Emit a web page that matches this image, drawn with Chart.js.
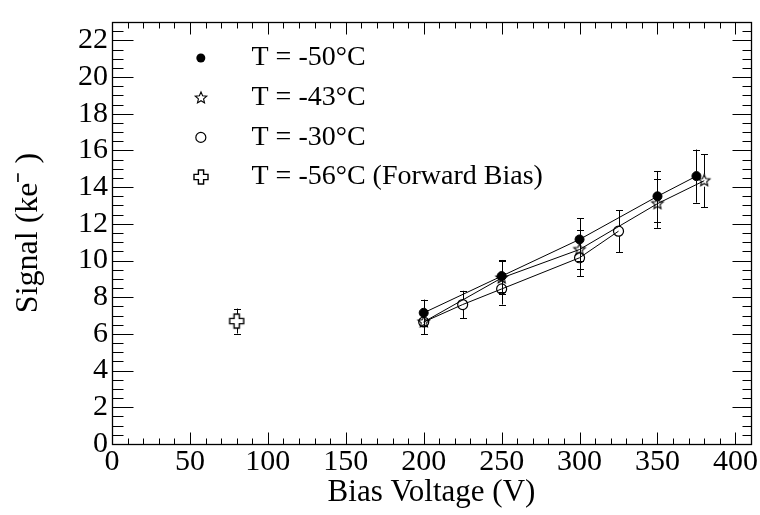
<!DOCTYPE html>
<html><head><meta charset="utf-8">
<script src="https://cdn.jsdelivr.net/npm/chart.js@4.4.1/dist/chart.umd.min.js"></script>
<style>html,body{margin:0;padding:0;background:#fff;} #wrap{width:760px;height:515px;position:relative;}</style>
</head><body><div id="wrap"><canvas id="c" width="760" height="515"></canvas></div>
<script>
// ---- data ----
const xTicks = [0, 50, 100, 150, 200, 250, 300, 350, 400];
const yTicks = [0, 2, 4, 6, 8, 10, 12, 14, 16, 18, 20, 22];
const seriesLabels = ['T = -50°C', 'T = -43°C', 'T = -30°C', 'T = -56°C (Forward Bias)'];

const volt50 = [200, 250, 300, 350, 375];
const sig50  = [7.15, 9.15, 11.15, 13.5, 14.6];
const err50  = [0.72, 0.88, 1.15, 1.38, 1.45];

const volt43 = [200, 250, 300, 350, 380];
const sig43  = [6.65, 9.05, 10.6, 13.1, 14.35];
const err43  = [0.65, 0.9, 1.06, 1.32, 1.45];

const volt30 = [200, 225, 250, 300, 325];
const sig30  = [6.65, 7.6, 8.45, 10.15, 11.6];
const err30  = [0.65, 0.75, 0.85, 1.0, 1.15];

const voltFB = [80];
const sigFB  = [6.7];
const errFB  = [0.68];

// ---- marker images ----
function makeStar(r) {
  const size = Math.ceil(r * 2 + 4);
  const c = document.createElement('canvas'); c.width = c.height = size;
  const g = c.getContext('2d'); const cx = size / 2, cy = size / 2;
  g.beginPath();
  for (let i = 0; i < 10; i++) {
    const a = -Math.PI / 2 + i * Math.PI / 5;
    const rr = (i % 2) ? r * 0.45 : r;
    g.lineTo(cx + rr * Math.cos(a), cy + rr * Math.sin(a));
  }
  g.closePath(); g.strokeStyle = '#000'; g.lineWidth = 1.1; g.stroke();
  return c;
}
function makeCross(s, a) {
  const size = Math.ceil(s * 2 + 4);
  const c = document.createElement('canvas'); c.width = c.height = size;
  const g = c.getContext('2d'); const cx = size / 2, cy = size / 2;
  const p = [[-a,-s],[a,-s],[a,-a],[s,-a],[s,a],[a,a],[a,s],[-a,s],[-a,a],[-s,a],[-s,-a],[-a,-a]];
  g.beginPath(); p.forEach(q => g.lineTo(cx + q[0], cy + q[1])); g.closePath();
  g.strokeStyle = '#000'; g.lineWidth = 1.4; g.stroke();
  return c;
}
const starImg = makeStar(6);
const crossImg = makeCross(7, 2.6);

const toPts = (xs, ys) => xs.map((x, i) => ({x: x, y: ys[i]}));

const datasets = [
  {label: seriesLabels[0], data: toPts(volt50, sig50), errors: err50, gap: 4.5,
   showLine: true, borderColor: '#000', borderWidth: 1, pointStyle: 'circle', pointRadius: 4.5,
   pointBackgroundColor: '#000', pointBorderColor: '#000', pointBorderWidth: 1},
  {label: seriesLabels[1], data: toPts(volt43, sig43), errors: err43, gap: 6,
   showLine: true, borderColor: '#000', borderWidth: 1, pointStyle: starImg, pointRadius: 6},
  {label: seriesLabels[2], data: toPts(volt30, sig30), errors: err30, gap: 5,
   showLine: true, borderColor: '#000', borderWidth: 1, pointStyle: 'circle', pointRadius: 5,
   pointBackgroundColor: 'rgba(0,0,0,0)', pointBorderColor: '#000', pointBorderWidth: 1.2},
  {label: seriesLabels[3], data: toPts(voltFB, sigFB), errors: errFB, gap: 7,
   showLine: false, borderColor: '#000', borderWidth: 1, pointStyle: crossImg, pointRadius: 7}
];

const FONT = 'Liberation Serif, Times New Roman, serif';

const rootPlugin = {
  id: 'rootStyle',
  beforeDatasetsDraw(chart) {
    const ctx = chart.ctx, xs = chart.scales.x, ys = chart.scales.y;
    ctx.save(); ctx.strokeStyle = '#000'; ctx.lineWidth = 1;
    chart.data.datasets.forEach(ds => {
      ds.data.forEach((p, i) => {
        const e = ds.errors[i];
        const px = Math.round(xs.getPixelForValue(p.x)) + 0.5;
        const py = ys.getPixelForValue(p.y);
        const top = ys.getPixelForValue(p.y + e), bot = ys.getPixelForValue(p.y - e);
        ctx.beginPath();
        ctx.moveTo(px, top); ctx.lineTo(px, py - ds.gap);
        ctx.moveTo(px, py + ds.gap); ctx.lineTo(px, bot);
        ctx.moveTo(px - 3.5, Math.round(top) + 0.5); ctx.lineTo(px + 3.5, Math.round(top) + 0.5);
        ctx.moveTo(px - 3.5, Math.round(bot) + 0.5); ctx.lineTo(px + 3.5, Math.round(bot) + 0.5);
        ctx.stroke();
      });
    });
    ctx.restore();
  },
  afterDraw(chart) {
    const ctx = chart.ctx, xs = chart.scales.x, ys = chart.scales.y, a = chart.chartArea;
    ctx.save(); ctx.strokeStyle = '#000'; ctx.lineWidth = 1.3;
    const L = Math.round(a.left) + 0.5, R = Math.round(a.right) + 0.5;
    const T = Math.round(a.top) + 0.5, B = Math.round(a.bottom) + 0.5;
    ctx.strokeRect(L, T, R - L, B - T);
    ctx.lineWidth = 1;
    ctx.beginPath();
    // x ticks (major every 50, minor every 10)
    for (let v = xTicks[0]; v <= xs.max + 1e-6; v += 10) {
      const major = xTicks.includes(v);
      const px = Math.round(xs.getPixelForValue(v)) + 0.5;
      const lb = major ? 12 : 6, lt = major ? 12 : 6;
      ctx.moveTo(px, B); ctx.lineTo(px, B - lb);
      ctx.moveTo(px, T); ctx.lineTo(px, T + lt);
    }
    // y ticks (major every 2, minor every 0.5)
    for (let v = yTicks[0]; v <= ys.max + 1e-6; v += 0.5) {
      const major = yTicks.includes(v);
      const py = Math.round(ys.getPixelForValue(v)) + 0.5;
      const ll = major ? 21 : 11, lr = major ? 19 : 9;
      ctx.moveTo(L, py); ctx.lineTo(L + ll, py);
      ctx.moveTo(R, py); ctx.lineTo(R - lr, py);
    }
    ctx.stroke();
    // legend
    const lx = xs.getPixelForValue(57), tx = xs.getPixelForValue(89.5);
    const y0 = 58, dy = 39.7;
    ctx.font = '28px ' + FONT; ctx.fillStyle = '#000'; ctx.textBaseline = 'middle'; ctx.textAlign = 'left';
    chart.data.datasets.forEach((ds, i) => {
      const y = y0 + i * dy;
      const st = ds.pointStyle;
      if (st instanceof HTMLCanvasElement) {
        ctx.drawImage(st, Math.round(lx - st.width / 2), Math.round(y - st.height / 2));
      } else {
        ctx.beginPath(); ctx.arc(lx, y, i === 0 ? 4.5 : 5, 0, Math.PI * 2);
        if (i === 0) { ctx.fillStyle = '#000'; ctx.fill(); } else { ctx.lineWidth = 1.2; ctx.stroke(); }
      }
      ctx.fillStyle = '#000';
      ctx.fillText(ds.label, tx, y);
    });
    ctx.restore();
  }
};

new Chart(document.getElementById('c'), {
  type: 'scatter',
  data: {datasets: datasets},
  options: {
    responsive: false, animation: false, devicePixelRatio: 1,
    layout: {padding: {top: 9, right: 9, left: 0, bottom: 0}},
    plugins: {legend: {display: false}, tooltip: {enabled: false}},
    scales: {
      x: {
        type: 'linear', min: 0, max: 410,
        afterBuildTicks(s) { s.ticks = xTicks.map(v => ({value: v})); },
        afterFit(s) { s.height = 71; },
        grid: {display: false, drawTicks: false}, border: {display: false},
        ticks: {color: '#000', font: {family: FONT, size: 30}, padding: 0, maxRotation: 0, autoSkip: false},
        title: {display: true, text: 'Bias Voltage (V)', color: '#000', font: {family: FONT, size: 31}, padding: {top: 0, bottom: 4}}
      },
      y: {
        type: 'linear', min: 0, max: 23,
        afterBuildTicks(s) { s.ticks = yTicks.map(v => ({value: v})); },
        afterFit(s) { s.width = 112; },
        grid: {display: false, drawTicks: false}, border: {display: false},
        ticks: {color: '#000', font: {family: FONT, size: 30}, padding: 4, autoSkip: false},
        title: {display: true, text: 'Signal (ke⁻ )', color: '#000', font: {family: FONT, size: 32}, padding: {top: 9, bottom: 0}}
      }
    }
  },
  plugins: [rootPlugin]
});
</script>
</body></html>
